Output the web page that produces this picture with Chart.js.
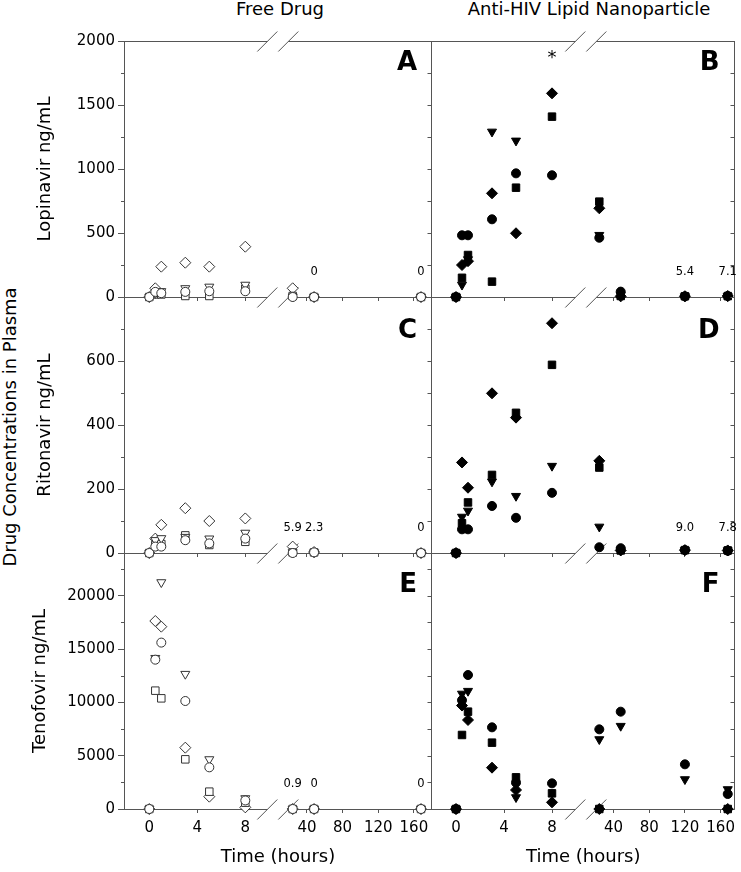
<!DOCTYPE html>
<html><head><meta charset="utf-8">
<script src="https://cdn.jsdelivr.net/npm/chart.js@4.4.1/dist/chart.umd.min.js"></script>
<style>
html,body{margin:0;padding:0;background:#fff;}
#wrap{position:relative;width:741px;height:872px;overflow:hidden;background:#fff;}
canvas{position:absolute;left:0;top:0;}
.hd{position:absolute;font-family:'DejaVu Sans',sans-serif;font-size:18px;line-height:18px;white-space:nowrap;color:#000;}
</style></head><body>
<div id="wrap">
<div class="hd" style="left:280px;top:0px;transform:translateX(-50%)">Free Drug</div>
<div class="hd" style="left:589px;top:0px;transform:translateX(-50%)">Anti-HIV Lipid Nanoparticle</div>
<div class="hd" style="left:9.5px;top:426.5px;transform:translate(-50%,-50%) rotate(-90deg)">Drug Concentrations in Plasma</div>
<canvas id="cA" width="741" height="872"></canvas>
<canvas id="cB" width="741" height="872"></canvas>
<canvas id="cC" width="741" height="872"></canvas>
<canvas id="cD" width="741" height="872"></canvas>
<canvas id="cE" width="741" height="872"></canvas>
<canvas id="cF" width="741" height="872"></canvas>
</div>
<script>
// ---------------- data ----------------
const timesFree = [0, 0.5, 1, 3, 5, 8, 24, 48, 168];
const timesNano = [0, 0.5, 1, 3, 5, 8, 24, 48, 120, 168];
const xTickValues = [0, 4, 8, 40, 80, 120, 160];
const yTicksLopinavir = [0, 500, 1000, 1500, 2000];
const yTicksRitonavir = [0, 200, 400, 600];
const yTicksTenofovir = [0, 5000, 10000, 15000, 20000];

// Lopinavir, free drug (A)
const lopFreeCircle   = [0, 40, 30, 40, 45, 45, 0, 0, 0];
const lopFreeTriangle = [0, 30, 45, 68, 80, 95, 3, 0, 0];
const lopFreeSquare   = [0, 20, 20, 8, 8, 65, 8, 0, 0];
const lopFreeDiamond  = [0, 68, 237, 268, 237, 393, 68, 0, 0];
// Lopinavir, nanoparticle (B)
const lopNanoCircle   = [0, 482, 482, 607, 966, 951, 463, 42, 5, 8];
const lopNanoTriangle = [0, 95, 294, 1291, 1221, null, 484, 16, 5, 6];
const lopNanoSquare   = [0, 150, 328, 120, 854, 1409, 745, 8, 6, 7];
const lopNanoDiamond  = [0, 250, 280, 810, 498, 1591, 693, 5, 6, 8];
// Ritonavir, free drug (C)
const ritFreeCircle   = [0, 20, 20, 40, 30, 45, 0, 2, 0];
const ritFreeTriangle = [0, 40, 46, 50, 45, 63, 2, 2, 0];
const ritFreeSquare   = [0, 25, 28, 55, 25, 35, 1.5, 2, 0];
const ritFreeDiamond  = [0, 45, 88, 140, 100, 108, 20, 3, 0];
// Ritonavir, nanoparticle (D)
const ritNanoCircle   = [0, 74, 74, 147, 110, 188, 18, 15, 9, 7];
const ritNanoTriangle = [0, 113, 132, 223, 178, 272, 82, 8, 9, 8];
const ritNanoSquare   = [0, 93, 158, 244, 438, 588, 267, 8, 9, 8];
const ritNanoDiamond  = [0, 283, 204, 499, 423, 718, 288, 8, 9, 8];
// Tenofovir, free drug (E)
const tfvFreeCircle   = [0, 14000, 15600, 10125, 3906, 800, 0, 0, 0];
const tfvFreeTriangle = [0, 14150, 21250, 12656, 4656, 1000, 0, 0, 0];
const tfvFreeSquare   = [0, 11094, 10375, 4656, 1625, 594, 0, 0, 0];
const tfvFreeDiamond  = [0, 17625, 17094, 5750, 1156, 156, 3.6, 0, 0];
// Tenofovir, nanoparticle (F)
const tfvNanoCircle   = [0, 10200, 12562, 7656, 2469, 2406, 7469, 9125, 4188, 1406];
const tfvNanoTriangle = [0, 10800, 11062, null, 1094, null, 6531, 7781, 2781, 1844];
const tfvNanoSquare   = [0, 6940, 9125, 6219, 2969, 1469, 0, null, null, 0];
const tfvNanoDiamond  = [0, 9700, 8344, 3875, 1781, 625, 0, null, null, 0];

// numeric annotations (mean values printed above near-zero points)
const annotTimesA = [48, 168];   const annotTextA = ['0', '0'];
const annotTimesB = [120, 168];  const annotTextB = ['5.4', '7.1'];
const annotTimesC = [24, 48, 168]; const annotTextC = ['5.9', '2.3', '0'];
const annotTimesD = [120, 168];  const annotTextD = ['9.0', '7.8'];
const annotTimesE = [24, 48, 168]; const annotTextE = ['0.9', '0', '0'];
const annotTimesF = [];          const annotTextF = [];
const starTimeB = 8; const starValueB = 1830;

// ---------------- styling / layout ----------------
const AXIS = '#555';
Chart.defaults.font.family = "'DejaVu Sans', sans-serif";
Chart.defaults.color = '#000';

const MARKERS = [
  {ps: 'circle', r: 4.5, rot: 0},
  {ps: 'triangle', r: 5.2, rot: 180},
  {ps: 'rect', r: 5.3, rot: 0},
  {ps: 'rectRot', r: 5.5, rot: 0}
];
const SERIES_NAMES = ['Subject 1', 'Subject 2', 'Subject 3', 'Subject 4'];

// broken time axis parameters per column (pixel offsets from chart-area left)
const BRK = [
  {off0: 25.3, k1: 12, off24: 168.7, k2: 0.891, split: 16},
  {off0: 24.0, k1: 12, off24: 167.3, k2: 0.892, split: 16}
];
const BREAK_MARKS = [143.3, 164.3];
const ROW_TOP = [41, 297, 553];
const ROW_BOTTOM = [297, 553, 809];
const COL_RIGHT_PAD = [741 - 432, 741 - 736];

const PANELS = {
  cA: {row: 0, col: 0, letter: 'A', letterDy: 28.5, yMax: 2000, yTicks: yTicksLopinavir, minor: 250, title: 'Lopinavir ng/mL', pl: 34.7,
       times: timesFree, series: [lopFreeCircle, lopFreeTriangle, lopFreeSquare, lopFreeDiamond], annT: annotTimesA, annS: annotTextA},
  cB: {row: 0, col: 1, letter: 'B', letterDy: 29, yMax: 2000, yTicks: yTicksLopinavir, minor: 250,
       times: timesNano, series: [lopNanoCircle, lopNanoTriangle, lopNanoSquare, lopNanoDiamond], annT: annotTimesB, annS: annotTextB,
       star: true},
  cC: {row: 1, col: 0, letter: 'C', letterDy: 41.3, yMax: 800, yTicks: yTicksRitonavir, minor: 100, title: 'Ritonavir ng/mL', pl: 34.7,
       times: timesFree, series: [ritFreeCircle, ritFreeTriangle, ritFreeSquare, ritFreeDiamond], annT: annotTimesC, annS: annotTextC},
  cD: {row: 1, col: 1, letter: 'D', letterDy: 41.3, yMax: 800, yTicks: yTicksRitonavir, minor: 100,
       times: timesNano, series: [ritNanoCircle, ritNanoTriangle, ritNanoSquare, ritNanoDiamond], annT: annotTimesD, annS: annotTextD},
  cE: {row: 2, col: 0, letter: 'E', letterDy: 38.7, yMax: 24000, yTicks: yTicksTenofovir, minor: 2500, title: 'Tenofovir ng/mL', pl: 29.7,
       times: timesFree, series: [tfvFreeCircle, tfvFreeTriangle, tfvFreeSquare, tfvFreeDiamond], annT: annotTimesE, annS: annotTextE},
  cF: {row: 2, col: 1, letter: 'F', letterDy: 38.7, yMax: 24000, yTicks: yTicksTenofovir, minor: 2500,
       times: timesNano, series: [tfvNanoCircle, tfvNanoTriangle, tfvNanoSquare, tfvNanoDiamond], annT: annotTimesF, annS: annotTextF}
};

// ---------------- broken linear time scale ----------------
class BrokenTimeScale extends Chart.LinearScale {
  _brk() { return BRK[PANELS[this.chart.canvas.id].col]; }
  getPixelForValue(value) {
    if (value === null || value === undefined || isNaN(value)) return NaN;
    const b = this._brk();
    if (value <= b.split) return this.left + b.off0 + value * b.k1;
    return this.left + b.off24 + (value - 24) * b.k2;
  }
  getValueForPixel(pixel) {
    const b = this._brk();
    const d = pixel - this.left;
    const s = b.off0 + b.split * b.k1;
    if (d <= s) return (d - b.off0) / b.k1;
    return 24 + (d - b.off24) / b.k2;
  }
}
BrokenTimeScale.id = 'brokenTime';
BrokenTimeScale.defaults = {};
Chart.register(BrokenTimeScale);

// ---------------- decorations plugin ----------------
const panelDeco = {
  id: 'panelDeco',
  beforeDatasetsDraw(chart) {
    const p = PANELS[chart.canvas.id];
    const ctx = chart.ctx, a = chart.chartArea, ys = chart.scales.y;
    const b1 = a.left + BREAK_MARKS[0], b2 = a.left + BREAK_MARKS[1];
    ctx.save();
    ctx.strokeStyle = AXIS; ctx.lineWidth = 1;
    const seg = (x1, y1, x2, y2) => { ctx.beginPath(); ctx.moveTo(x1, y1); ctx.lineTo(x2, y2); ctx.stroke(); };
    const brokenLine = (y) => {
      seg(a.left, y, b1, y); seg(b2, y, a.right, y);
      seg(b1 - 10, y + 10, b1 + 10, y - 10);
      seg(b2 - 10, y + 10, b2 + 10, y - 10);
    };
    brokenLine(Math.round(a.bottom) + 0.5);
    if (p.row === 0) brokenLine(Math.round(a.top) + 0.5);
    const xr = Math.round(a.right) - 0.5;
    seg(xr, a.top, xr, a.bottom + 0.5);
    for (let v = 0; v <= p.yMax + 1e-6; v += p.minor) {
      const y = Math.round(ys.getPixelForValue(v)) + 0.5;
      seg(xr - 4, y, xr, y);
      if (p.col === 0 && p.yTicks.indexOf(v) < 0 && v < p.yMax) seg(a.left - 3, y, a.left, y);
    }
    ctx.restore();
  },
  afterDatasetsDraw(chart) {
    const p = PANELS[chart.canvas.id];
    const ctx = chart.ctx, a = chart.chartArea, xs = chart.scales.x, ys = chart.scales.y;
    ctx.save();
    ctx.fillStyle = '#000';
    ctx.font = "bold 26px 'DejaVu Sans', sans-serif";
    ctx.textAlign = 'right'; ctx.textBaseline = 'alphabetic';
    ctx.fillText(p.letter, a.right - 15, a.top + p.letterDy);
    ctx.font = "11.5px 'DejaVu Sans', sans-serif";
    ctx.textAlign = 'center'; ctx.textBaseline = 'middle';
    p.annT.forEach((t, i) => ctx.fillText(p.annS[i], xs.getPixelForValue(t), a.bottom - 24.5));
    if (p.star) {
      ctx.font = "18px 'DejaVu Sans', sans-serif";
      ctx.textBaseline = 'alphabetic';
      ctx.fillText('*', xs.getPixelForValue(starTimeB), ys.getPixelForValue(starValueB));
    }
    ctx.restore();
  }
};

// ---------------- build charts ----------------
function makePanel(id) {
  const p = PANELS[id];
  const isLeft = p.col === 0, isBottom = p.row === 2;
  const open = isLeft;
  const datasets = p.series.map((vals, si) => {
    const m = MARKERS[si];
    return {
      label: SERIES_NAMES[si],
      data: p.times.map((t, i) => ({x: t, y: vals[i]})).filter(d => d.y !== null),
      showLine: false,
      clip: false,
      pointStyle: m.ps,
      pointRadius: m.r,
      pointRotation: m.rot,
      pointBorderWidth: 1,
      pointBorderColor: open ? '#333' : '#000',
      pointBackgroundColor: open ? '#fff' : '#000'
    };
  });
  const hx = isBottom ? (872 - 3.5 - 809) : 5;
  const pb = isBottom ? 3.5 : (872 - ROW_BOTTOM[p.row] - 5);
  const pl = isLeft ? p.pl : 432;
  const wy = isLeft ? 124 - p.pl : 0;
  const yScale = {
    type: 'linear', position: 'left', display: isLeft,
    min: 0, max: p.yMax,
    afterBuildTicks: (s) => { s.ticks = p.yTicks.map(v => ({value: v})); },
    ticks: {padding: 3, font: {size: 15}, color: '#000', callback: (v) => String(v)},
    grid: {drawOnChartArea: false, drawTicks: true, tickLength: 6, color: AXIS, tickColor: AXIS},
    border: {display: true, color: AXIS},
    title: {display: isLeft, text: p.title || '', font: {size: 18}, padding: 0, color: '#000'}
  };
  if (isLeft) yScale.afterFit = (s) => { s.width = wy; s.paddingTop = 0; s.paddingBottom = 0; };
  new Chart(document.getElementById(id), {
    type: 'scatter',
    data: {datasets},
    options: {
      responsive: false, animation: false, devicePixelRatio: 1, events: [],
      layout: {padding: {left: pl, right: COL_RIGHT_PAD[p.col], top: ROW_TOP[p.row], bottom: pb}},
      plugins: {legend: {display: false}, tooltip: {enabled: false}},
      scales: {
        x: {
          type: 'brokenTime', position: 'bottom', min: -2, max: 180,
          afterBuildTicks: (s) => { s.ticks = xTickValues.map(v => ({value: v})); },
          afterFit: (s) => { s.height = hx; s.paddingLeft = 0; s.paddingRight = 0; },
          ticks: {display: isBottom, autoSkip: false, maxRotation: 0, minRotation: 0, padding: 6.5,
                  font: {size: 15}, color: '#000', callback: (v) => String(v)},
          grid: {display: true, drawOnChartArea: false, drawTicks: true, tickLength: 4, color: AXIS, tickColor: AXIS},
          border: {display: false},
          title: {display: isBottom, text: 'Time (hours)', font: {size: 18}, padding: 0, color: '#000'}
        },
        y: yScale
      }
    },
    plugins: [panelDeco]
  });
}
['cA', 'cB', 'cC', 'cD', 'cE', 'cF'].forEach(makePanel);
</script>
</body></html>
